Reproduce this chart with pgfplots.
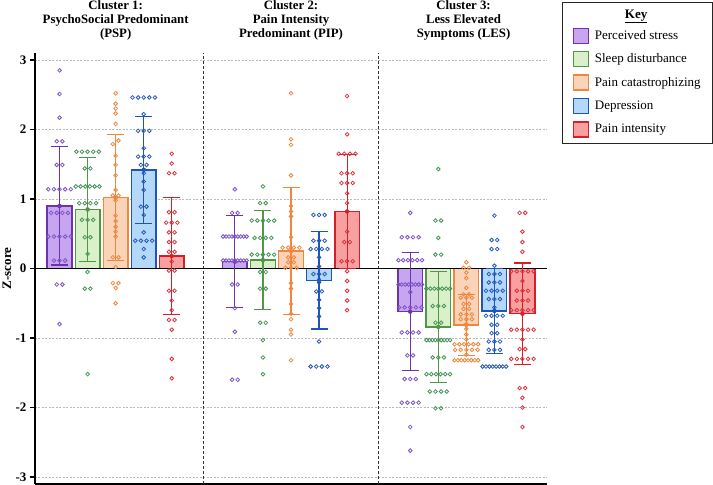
\documentclass[border=0pt]{standalone}
\usepackage{pgfplots}
\usepackage{pgfplotstable}
\pgfplotsset{compat=1.18}
\usepackage{fontspec}
\setmainfont{Liberation Serif}

\definecolor{pB}{RGB}{110,50,170}
\definecolor{pF}{RGB}{200,165,240}
\definecolor{pP}{RGB}{125,85,200}
\definecolor{gB}{RGB}{80,150,70}
\definecolor{gF}{RGB}{218,240,200}
\definecolor{gP}{RGB}{70,150,90}
\definecolor{oB}{RGB}{240,135,60}
\definecolor{oF}{RGB}{250,212,185}
\definecolor{oP}{RGB}{240,135,60}
\definecolor{bB}{RGB}{30,85,185}
\definecolor{bF}{RGB}{180,216,250}
\definecolor{bP}{RGB}{40,90,190}
\definecolor{rB}{RGB}{215,30,40}
\definecolor{rF}{RGB}{248,160,160}
\definecolor{rP}{RGB}{220,50,60}

% individual points: c = group centre, o = horizontal offset in the swarm, y = z-score
\pgfplotstableread[row sep=\\]{
c o y\\
1 0 2.85\\1 0 2.51\\1 0 2.17\\1 -0.1 1.83\\1 0.1 1.83\\1 -0.1 1.49\\1 0.1 1.49\\
1 -0.4 1.14\\1 -0.2 1.14\\1 0 1.14\\1 0.2 1.14\\1 0.4 1.14\\
1 -0.3 0.80\\1 -0.1 0.80\\1 0.1 0.80\\1 0.3 0.80\\
1 -0.4 0.46\\1 -0.2 0.46\\1 0 0.46\\1 0.2 0.46\\1 0.4 0.46\\
1 -0.2 0.115\\1 0 0.115\\1 0.2 0.115\\
1 -0.1 -0.23\\1 0.1 -0.23\\1 0 -0.80\\
7.25 0 1.14\\7.25 -0.1 0.80\\7.25 0.1 0.80\\
7.25 -0.42 0.46\\7.25 -0.315 0.46\\7.25 -0.21 0.46\\7.25 -0.105 0.46\\7.25 0 0.46\\7.25 0.105 0.46\\7.25 0.21 0.46\\7.25 0.315 0.46\\7.25 0.42 0.46\\
7.25 -0.42 0.115\\7.25 -0.315 0.115\\7.25 -0.21 0.115\\7.25 -0.105 0.115\\7.25 0 0.115\\7.25 0.105 0.115\\7.25 0.21 0.115\\7.25 0.315 0.115\\7.25 0.42 0.115\\
7.25 -0.1 -0.23\\7.25 0.1 -0.23\\7.25 0 -0.57\\7.25 0 -0.91\\7.25 -0.1 -1.60\\7.25 0.1 -1.60\\
13.5 0 0.80\\
13.5 -0.3 0.45\\13.5 -0.1 0.45\\13.5 0.1 0.45\\13.5 0.3 0.45\\
13.5 -0.42 0.12\\13.5 -0.25 0.12\\13.5 -0.08 0.12\\13.5 0.08 0.12\\13.5 0.25 0.12\\13.5 0.42 0.12\\
13.5 -0.42 -0.23\\13.5 -0.3 -0.23\\13.5 -0.18 -0.23\\13.5 -0.06 -0.23\\13.5 0.06 -0.23\\13.5 0.18 -0.23\\13.5 0.3 -0.23\\13.5 0.42 -0.23\\
13.5 0 -0.34\\
13.5 -0.4 -0.56\\13.5 -0.2 -0.56\\13.5 0 -0.56\\13.5 0.2 -0.56\\13.5 0.4 -0.56\\
13.5 -0.3 -0.92\\13.5 -0.1 -0.92\\13.5 0.1 -0.92\\13.5 0.3 -0.92\\
13.5 -0.1 -1.25\\13.5 0.1 -1.25\\
13.5 -0.2 -1.59\\13.5 0 -1.59\\13.5 0.2 -1.59\\
13.5 -0.3 -1.93\\13.5 -0.1 -1.93\\13.5 0.1 -1.93\\13.5 0.3 -1.93\\
13.5 0 -2.28\\13.5 0 -2.62\\
}\ptsP

\pgfplotstableread[row sep=\\]{
c o y\\
2 -0.4 1.68\\2 -0.2 1.68\\2 0 1.68\\2 0.2 1.68\\2 0.4 1.68\\
2 -0.1 1.44\\2 0.1 1.44\\
2 -0.42 1.18\\2 -0.25 1.18\\2 -0.08 1.18\\2 0.08 1.18\\2 0.25 1.18\\2 0.42 1.18\\
2 -0.3 0.94\\2 -0.1 0.94\\2 0.1 0.94\\2 0.3 0.94\\
2 -0.2 0.70\\2 0 0.70\\2 0.2 0.70\\
2 -0.1 0.45\\2 0.1 0.45\\2 0 0.21\\2 0 -0.05\\2 -0.1 -0.29\\2 0.1 -0.29\\2 0 -1.52\\
8.25 0 1.18\\8.25 -0.1 0.94\\8.25 0.1 0.94\\
8.25 -0.4 0.69\\8.25 -0.2 0.69\\8.25 0 0.69\\8.25 0.2 0.69\\8.25 0.4 0.69\\
8.25 -0.3 0.44\\8.25 -0.1 0.44\\8.25 0.1 0.44\\8.25 0.3 0.44\\
8.25 -0.4 0.20\\8.25 -0.2 0.20\\8.25 0 0.20\\8.25 0.2 0.20\\8.25 0.4 0.20\\
8.25 -0.1 -0.05\\8.25 0.1 -0.05\\8.25 -0.1 -0.29\\8.25 0.1 -0.29\\8.25 -0.1 -0.78\\8.25 0.1 -0.78\\
8.25 0 -1.03\\8.25 0 -1.28\\8.25 0 -1.52\\
14.5 0 1.43\\14.5 -0.1 0.69\\14.5 0.1 0.69\\14.5 0 0.44\\14.5 -0.1 0.20\\14.5 0.1 0.20\\
14.5 -0.42 -0.29\\14.5 -0.28 -0.29\\14.5 -0.14 -0.29\\14.5 0 -0.29\\14.5 0.14 -0.29\\14.5 0.28 -0.29\\14.5 0.42 -0.29\\
14.5 -0.2 -0.54\\14.5 0 -0.54\\14.5 0.2 -0.54\\
14.5 -0.1 -0.78\\14.5 0.1 -0.78\\
14.5 -0.42 -1.03\\14.5 -0.315 -1.03\\14.5 -0.21 -1.03\\14.5 -0.105 -1.03\\14.5 0 -1.03\\14.5 0.105 -1.03\\14.5 0.21 -1.03\\14.5 0.315 -1.03\\14.5 0.42 -1.03\\
14.5 -0.2 -1.28\\14.5 0 -1.28\\14.5 0.2 -1.28\\
14.5 -0.42 -1.52\\14.5 -0.25 -1.52\\14.5 -0.08 -1.52\\14.5 0.08 -1.52\\14.5 0.25 -1.52\\14.5 0.42 -1.52\\
14.5 -0.3 -1.77\\14.5 -0.1 -1.77\\14.5 0.1 -1.77\\14.5 0.3 -1.77\\
14.5 -0.1 -2.01\\14.5 0.1 -2.01\\
}\ptsG

\pgfplotstableread[row sep=\\]{
c o y\\
3 0 2.52\\3 0 2.37\\3 0 2.30\\3 0 2.23\\3 0 2.08\\3 -0.1 1.79\\3 0.1 1.84\\
3 0 1.62\\3 0 1.49\\3 0 1.34\\3 0 1.13\\3 -0.1 1.05\\3 0.1 1.05\\
3 0 0.98\\3 0 0.76\\3 0 0.68\\3 0 0.60\\3 0 0.53\\3 0 0.46\\
3 -0.1 0.16\\3 0.1 0.16\\3 0 0.02\\3 -0.1 -0.21\\3 0.1 -0.21\\3 0 -0.28\\3 0 -0.50\\
9.25 0 2.52\\9.25 0 1.86\\9.25 0 1.78\\9.25 0 1.34\\9.25 0 0.90\\9.25 0 0.82\\9.25 0 0.75\\9.25 0 0.45\\
9.25 -0.3 0.30\\9.25 -0.1 0.30\\9.25 0.1 0.30\\9.25 0.3 0.30\\
9.25 -0.1 0.16\\9.25 0.1 0.16\\9.25 -0.1 0.09\\9.25 0.1 0.09\\
9.25 -0.2 0.01\\9.25 0 0.01\\9.25 0.2 0.01\\
9.25 0 -0.21\\9.25 0 -0.29\\9.25 0 -0.51\\9.25 0 -0.65\\9.25 0 -0.73\\9.25 0 -0.88\\9.25 0 -0.95\\9.25 0 -1.32\\
15.5 0 0.09\\15.5 -0.1 0.01\\15.5 0.1 0.01\\15.5 0 -0.06\\15.5 0 -0.14\\15.5 0 -0.28\\
15.5 -0.1 -0.37\\15.5 0.1 -0.37\\15.5 -0.2 -0.42\\15.5 0 -0.42\\15.5 0.2 -0.42\\
15.5 -0.1 -0.51\\15.5 0.1 -0.51\\15.5 -0.1 -0.58\\15.5 0.1 -0.58\\
15.5 -0.2 -0.66\\15.5 0 -0.66\\15.5 0.2 -0.66\\15.5 -0.2 -0.73\\15.5 0 -0.73\\15.5 0.2 -0.73\\
15.5 0 -0.80\\15.5 0 -0.87\\15.5 0 -0.95\\15.5 0 -1.02\\
15.5 -0.42 -1.09\\15.5 -0.25 -1.09\\15.5 -0.08 -1.09\\15.5 0.08 -1.09\\15.5 0.25 -1.09\\15.5 0.42 -1.09\\
15.5 -0.4 -1.17\\15.5 -0.2 -1.17\\15.5 0 -1.17\\15.5 0.2 -1.17\\15.5 0.4 -1.17\\
15.5 0 -1.24\\
15.5 -0.42 -1.32\\15.5 -0.3 -1.32\\15.5 -0.18 -1.32\\15.5 -0.06 -1.32\\15.5 0.06 -1.32\\15.5 0.18 -1.32\\15.5 0.3 -1.32\\15.5 0.42 -1.32\\
}\ptsO

\pgfplotstableread[row sep=\\]{
c o y\\
4 -0.4 2.46\\4 -0.2 2.46\\4 0 2.46\\4 0.2 2.46\\4 0.4 2.46\\4 0 2.22\\
4 -0.2 1.98\\4 0 1.98\\4 0.2 1.98\\4 0 1.73\\4 -0.2 1.61\\4 0 1.61\\4 0.2 1.61\\
4 -0.1 1.49\\4 0.1 1.49\\4 0 1.37\\4 0 1.25\\4 0 1.13\\4 -0.1 0.89\\4 0.1 0.89\\
4 0 0.77\\4 0 0.52\\4 -0.3 0.40\\4 -0.1 0.40\\4 0.1 0.40\\4 0.3 0.40\\4 0 0.28\\4 0 0.16\\
10.25 -0.2 0.77\\10.25 0 0.77\\10.25 0.2 0.77\\10.25 -0.2 0.40\\10.25 0 0.40\\10.25 0.2 0.40\\
10.25 -0.3 0.28\\10.25 -0.1 0.28\\10.25 0.1 0.28\\10.25 0.3 0.28\\10.25 0 0.16\\10.25 0 0.03\\
10.25 -0.2 -0.08\\10.25 0 -0.08\\10.25 0.2 -0.08\\10.25 0 -0.20\\10.25 -0.1 -0.33\\10.25 0.1 -0.33\\
10.25 0 -0.45\\10.25 0 -0.57\\10.25 0 -0.69\\10.25 0 -1.05\\
10.25 -0.3 -1.41\\10.25 -0.1 -1.41\\10.25 0.1 -1.41\\10.25 0.3 -1.41\\
16.5 0 0.76\\16.5 -0.1 0.41\\16.5 0.1 0.41\\16.5 -0.1 0.28\\16.5 0.1 0.28\\16.5 0 0.04\\
16.5 -0.2 -0.08\\16.5 0 -0.08\\16.5 0.2 -0.08\\16.5 -0.2 -0.20\\16.5 0 -0.20\\16.5 0.2 -0.20\\
16.5 -0.3 -0.32\\16.5 -0.1 -0.32\\16.5 0.1 -0.32\\16.5 0.3 -0.32\\
16.5 -0.2 -0.44\\16.5 0 -0.44\\16.5 0.2 -0.44\\16.5 0 -0.56\\
16.5 -0.3 -0.68\\16.5 -0.1 -0.68\\16.5 0.1 -0.68\\16.5 0.3 -0.68\\
16.5 -0.1 -0.81\\16.5 0.1 -0.81\\16.5 -0.1 -0.93\\16.5 0.1 -0.93\\
16.5 -0.2 -1.05\\16.5 0 -1.05\\16.5 0.2 -1.05\\16.5 -0.2 -1.17\\16.5 0 -1.17\\16.5 0.2 -1.17\\
16.5 -0.42 -1.41\\16.5 -0.3 -1.41\\16.5 -0.18 -1.41\\16.5 -0.06 -1.41\\16.5 0.06 -1.41\\16.5 0.18 -1.41\\16.5 0.3 -1.41\\16.5 0.42 -1.41\\
}\ptsB

\pgfplotstableread[row sep=\\]{
c o y\\
5 0 1.65\\5 0 1.51\\5 -0.1 1.37\\5 0.1 1.37\\5 -0.1 0.81\\5 0.1 0.81\\
5 -0.2 0.66\\5 0 0.66\\5 0.2 0.66\\5 -0.1 0.52\\5 0.1 0.52\\5 -0.1 0.38\\5 0.1 0.38\\
5 -0.1 0.24\\5 0.1 0.24\\5 0 0.10\\5 -0.1 -0.03\\5 0.1 -0.03\\5 -0.1 -0.32\\5 0.1 -0.32\\
5 0 -0.46\\5 0 -0.60\\5 -0.1 -0.74\\5 0.1 -0.74\\5 0 -0.88\\5 0 -1.30\\5 0 -1.58\\
11.25 0 2.48\\11.25 0 1.93\\
11.25 -0.3 1.65\\11.25 -0.1 1.65\\11.25 0.1 1.65\\11.25 0.3 1.65\\
11.25 -0.2 1.37\\11.25 0 1.37\\11.25 0.2 1.37\\11.25 -0.2 1.23\\11.25 0 1.23\\11.25 0.2 1.23\\
11.25 0 1.08\\11.25 0 0.94\\11.25 0 0.53\\11.25 -0.1 0.38\\11.25 0.1 0.38\\
11.25 -0.2 0.105\\11.25 0 0.105\\11.25 0.2 0.105\\
11.25 0 -0.04\\11.25 0 -0.18\\11.25 0 -0.32\\11.25 0 -0.46\\11.25 0 -0.60\\
17.5 -0.1 0.80\\17.5 0.1 0.80\\17.5 0 0.53\\17.5 0 0.38\\17.5 0 0.24\\
17.5 -0.4 -0.04\\17.5 -0.2 -0.04\\17.5 0 -0.04\\17.5 0.2 -0.04\\17.5 0.4 -0.04\\
17.5 0 -0.18\\17.5 -0.2 -0.32\\17.5 0 -0.32\\17.5 0.2 -0.32\\17.5 -0.2 -0.46\\17.5 0 -0.46\\17.5 0.2 -0.46\\
17.5 -0.4 -0.60\\17.5 -0.2 -0.60\\17.5 0 -0.60\\17.5 0.2 -0.60\\17.5 0.4 -0.60\\
17.5 -0.4 -0.88\\17.5 -0.2 -0.88\\17.5 0 -0.88\\17.5 0.2 -0.88\\17.5 0.4 -0.88\\
17.5 0 -1.02\\17.5 -0.1 -1.16\\17.5 0.1 -1.16\\
17.5 -0.4 -1.30\\17.5 -0.2 -1.30\\17.5 0 -1.30\\17.5 0.2 -1.30\\17.5 0.4 -1.30\\
17.5 -0.1 -1.72\\17.5 0.1 -1.72\\17.5 0 -1.86\\17.5 0 -2.00\\17.5 0 -2.28\\
}\ptsR

\pgfplotsset{
  legsq/.style={legend image code/.code={\draw[##1, line width=1.4pt] (0pt,-7.5pt) rectangle (15pt,7.5pt);}},
  barst/.style={ybar, bar width=0.88, bar shift=0pt, line width=1.5pt, forget plot},
  errst/.style={#1, only marks, mark=none, forget plot,
    error bars/.cd, y dir=both, y explicit, error mark=-,
    error bar style={line width=1.2pt, #1},
    error mark options={rotate=90, mark size=8.5pt, line width=1.2pt, #1}},
  ptst/.style={only marks, mark=o, mark size=1.85pt, mark options={#1, line width=0.8pt}, forget plot},
}

\begin{document}
\begin{tikzpicture}
\useasboundingbox (0,0) rectangle (713pt,485pt);
\begin{axis}[
  at={(35pt,1pt)}, anchor=south west,
  width=512pt, height=431pt, scale only axis,
  xmin=0.125, xmax=18.375, ymin=-3.1, ymax=3.1,
  axis lines*=left, axis line style={line width=1.7pt, black},
  xtick=\empty,
  ytick={-3,-2,-1,0,1,2,3},
  tick align=outside, major tick length=5pt,
  ytick style={line width=1.4pt, black},
  /pgf/number format/assume math mode=true,
  yticklabel style={font=\bfseries\fontsize{13}{15}\selectfont},
  ymajorgrids, grid style={gray!55, line width=0.6pt, dash pattern=on 2pt off 1.5pt},
  ylabel={Z-score},
  every axis y label/.style={at={(axis description cs:0,0.5)}, xshift=-28pt, rotate=90, anchor=center, font=\bfseries\fontsize{13}{15}\selectfont},
  clip=false,
  legend cell align=left,
  legend style={at={(1.0293,1.1183)}, anchor=north west, draw=black!85, line width=1pt,
    font=\fontsize{13}{15}\selectfont, inner xsep=10.5pt, inner ysep=6pt,
    row sep=7pt, column sep=4.5pt, nodes={inner sep=1pt}},
]
% cluster dividers
\draw[gray!40!black, line width=1pt, dash pattern=on 3pt off 2pt] (axis cs:6.125,-3.1) -- (axis cs:6.125,3.1);
\draw[gray!40!black, line width=1pt, dash pattern=on 3pt off 2pt] (axis cs:12.375,-3.1) -- (axis cs:12.375,3.1);

% mean bars
\addplot[barst, draw=pB, fill=pF] coordinates {(1,0.90) (7.25,0.10) (13.5,-0.62)};
\addplot[barst, draw=gB, fill=gF] coordinates {(2,0.85) (8.25,0.12) (14.5,-0.84)};
\addplot[barst, draw=oB, fill=oF] coordinates {(3,1.02) (9.25,0.25) (15.5,-0.81)};
\addplot[barst, draw=bB, fill=bF] coordinates {(4,1.42) (10.25,-0.17) (16.5,-0.61)};
\addplot[barst, draw=rB, fill=rF] coordinates {(5,0.18) (11.25,0.82) (17.5,-0.65)};

\draw[black, line width=1.7pt] (axis cs:0.125,0) -- (axis cs:18.375,0);

% SD error bars
\addplot[errst=pB] coordinates {(1,0.90) +- (0,0.85) (7.25,0.10) +- (0,0.66) (13.5,-0.62) +- (0,0.85)};
\addplot[errst=gB] coordinates {(2,0.85) +- (0,0.75) (8.25,0.12) +- (0,0.71) (14.5,-0.84) +- (0,0.80)};
\addplot[errst=oB] coordinates {(3,1.02) +- (0,0.91) (9.25,0.25) +- (0,0.91) (15.5,-0.81) +- (0,0.44)};
\addplot[errst=bB] coordinates {(4,1.42) +- (0,0.77) (10.25,-0.17) +- (0,0.70) (16.5,-0.61) +- (0,0.61)};
\addplot[errst=rB] coordinates {(5,0.18) +- (0,0.84) (11.25,0.82) +- (0,0.82) (17.5,-0.65) +- (0,0.73)};

% individual points
\addplot[ptst=pP] table[x expr=\thisrow{c}+\thisrow{o}, y=y] {\ptsP};
\addplot[ptst=gP] table[x expr=\thisrow{c}+\thisrow{o}, y=y] {\ptsG};
\addplot[ptst=oP] table[x expr=\thisrow{c}+\thisrow{o}, y=y] {\ptsO};
\addplot[ptst=bP] table[x expr=\thisrow{c}+\thisrow{o}, y=y] {\ptsB};
\addplot[ptst=rP] table[x expr=\thisrow{c}+\thisrow{o}, y=y] {\ptsR};

% cluster titles
\node[font=\bfseries\fontsize{12.8}{14.2}\selectfont, align=center, anchor=south, inner sep=0pt, yshift=12.5pt] at (axis cs:3,3.1) {Cluster 1:\\PsychoSocial Predominant\\(PSP)};
\node[font=\bfseries\fontsize{12.8}{14.2}\selectfont, align=center, anchor=south, inner sep=0pt, yshift=12.5pt] at (axis cs:9.25,3.1) {Cluster 2:\\Pain Intensity\\Predominant (PIP)};
\node[font=\bfseries\fontsize{12.8}{14.2}\selectfont, align=center, anchor=south, inner sep=0pt, yshift=12.5pt] at (axis cs:15.4,3.1) {Cluster 3:\\Less Elevated\\Symptoms (LES)};

% key
\addlegendimage{empty legend}
\addlegendentry{\hspace{30pt}\textbf{\underline{Key}}}
\addlegendimage{legsq, draw=pB, fill=pF}
\addlegendentry{Perceived stress}
\addlegendimage{legsq, draw=gB, fill=gF}
\addlegendentry{Sleep disturbance}
\addlegendimage{legsq, draw=oB, fill=oF}
\addlegendentry{Pain catastrophizing}
\addlegendimage{legsq, draw=bB, fill=bF}
\addlegendentry{Depression}
\addlegendimage{legsq, draw=rB, fill=rF}
\addlegendentry{Pain intensity}
\end{axis}
\end{tikzpicture}
\end{document}
